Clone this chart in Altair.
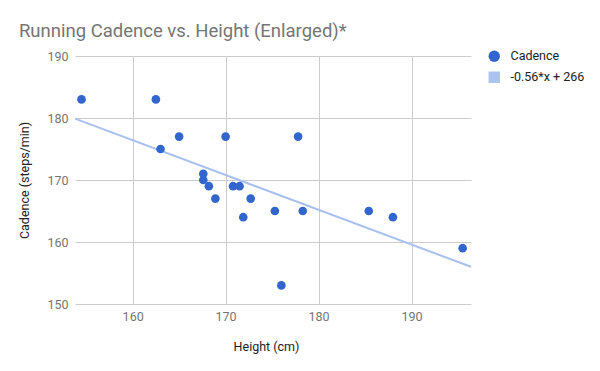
import altair as alt
import pandas as pd

# Data
heights = [154.5, 162.5, 165.0, 163.0, 170.0, 177.8, 167.6, 167.6, 168.2, 168.9,
           170.8, 171.5, 172.7, 171.9, 175.3, 178.3, 176.0, 185.4, 188.0, 195.5]
cadence = [183, 183, 177, 175, 177, 177, 171, 170, 169, 167,
           169, 169, 167, 164, 165, 165, 153, 165, 164, 159]
trend_x = [153.8, 196.4]
trend_y = [179.9, 156.0]
series_names = ["Cadence", "-0.56*x + 266"]
x_ticks = [160, 170, 180, 190]
y_ticks = [150, 160, 170, 180, 190]

pts = pd.DataFrame({"Height": heights, "Cadence": cadence, "series": ["Cadence"] * len(heights)})
trend = pd.DataFrame({"Height": trend_x, "Cadence": trend_y})

FONT = "Roboto"
x_scale = alt.Scale(domain=[153.8, 196.4], nice=False, zero=False)
y_scale = alt.Scale(domain=[150, 190], nice=False, zero=False)

x_axis = alt.Axis(values=x_ticks, title="Height (cm)", grid=True, domain=False, ticks=False,
                  labelPadding=6, titlePadding=18, titleX=191)
y_axis = alt.Axis(values=y_ticks, title="Cadence (steps/min)", grid=True, domain=False, ticks=False,
                  labelPadding=7, titlePadding=15)

legend = alt.Legend(title=None, orient="none", legendX=413, legendY=-6,
                    symbolSize=130, labelFontSize=12.5, labelFont=FONT,
                    labelColor="#222222", labelOffset=10, rowPadding=8,
                    padding=0, symbolStrokeWidth=0)

line = alt.Chart(trend).mark_line(color="#a8c0ee", strokeWidth=2).encode(
    x=alt.X("Height:Q", scale=x_scale, axis=x_axis),
    y=alt.Y("Cadence:Q", scale=y_scale, axis=y_axis),
)

points = alt.Chart(pts).mark_point(filled=True, opacity=1, size=75).encode(
    x=alt.X("Height:Q", scale=x_scale, axis=x_axis),
    y=alt.Y("Cadence:Q", scale=y_scale, axis=y_axis),
    color=alt.Color("series:N", scale=alt.Scale(domain=series_names, range=["#3366cc", "#adc3ef"]),
                    legend=legend),
    shape=alt.Shape("series:N", scale=alt.Scale(domain=series_names, range=["circle", "square"]),
                    legend=legend),
)

chart = (line + points).properties(
    width=396,
    height=248,
    autosize=alt.AutoSizeParams(type="none"),
    padding={"left": 67, "top": 48, "right": 121, "bottom": 50},
    title=alt.TitleParams("Running Cadence vs. Height (Enlarged)*", anchor="start", fontSize=18.5,
                          font=FONT, fontWeight="normal", color="#757575", offset=10),
).configure_view(stroke=None).configure_axis(
    labelFont=FONT, labelFontSize=12.5, labelColor="#757575",
    titleFont=FONT, titleFontSize=12.5, titleColor="#222222", titleFontWeight="normal",
    gridColor="#cccccc", gridWidth=1,
)

chart.save("out.html", embed_options={"renderer": "svg", "actions": False})
